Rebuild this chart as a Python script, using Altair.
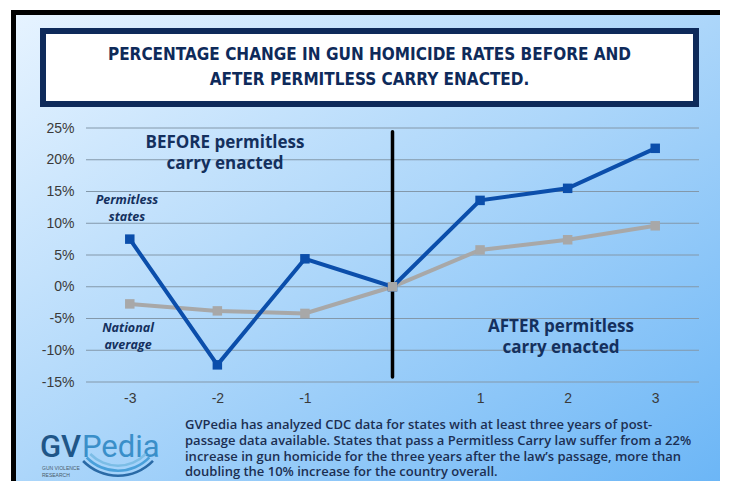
import altair as alt
import pandas as pd

# ---- data ----
years = [-3, -2, -1, 0, 1, 2, 3]
permitless = [7.5, -12.3, 4.4, 0.0, 13.6, 15.5, 21.8]
national = [-2.7, -3.8, -4.2, 0.0, 5.8, 7.4, 9.6]
series_names = ["Permitless states", "National average"]
y_ticks = [-15, -10, -5, 0, 5, 10, 15, 20, 25]
x_ticks = [-3, -2, -1, 1, 2, 3]
enact_year = [0]
enact_span = [24.4, -14.2]

title_lines = ["PERCENTAGE CHANGE IN GUN HOMICIDE RATES BEFORE AND",
               "AFTER PERMITLESS CARRY ENACTED."]
before_lines = ["BEFORE permitless", "carry enacted"]
after_lines = ["AFTER permitless", "carry enacted"]
perm_label = ["Permitless", "states"]
nat_label = ["National", "average"]
note_lines = [
    "GVPedia has analyzed CDC data for states with at least three years of post-",
    "passage data available. States that pass a Permitless Carry law suffer from a 22%",
    "increase in gun homicide for the three years after the law\u2019s passage, more than",
    "doubling the 10% increase for the country overall.",
]

BLUE = "#0b4eab"
GRAY = "#a8a8a8"
NAVY = "#14305e"

df = pd.DataFrame({
    "year": years * 2,
    "value": permitless + national,
    "series": [series_names[0]] * len(years) + [series_names[1]] * len(years),
})
perm_df = df[df.series == series_names[0]]
nat_df = df[df.series == series_names[1]]
one = pd.DataFrame({"k": [0]})
grid_df = pd.DataFrame({"value": y_ticks})
vline_df = pd.DataFrame({"year": enact_year, "value": [enact_span[0]], "bot": [enact_span[1]]})

xs = alt.Scale(domain=[-3.5, 3.5], nice=False, zero=False)
ys = alt.Scale(domain=[-15, 25], nice=False, zero=False)

x_axis = alt.Axis(values=x_ticks, labelExpr="'' + datum.value", grid=False, domain=False,
                  ticks=False, labelPadding=9, labelFont="Liberation Sans",
                  labelFontSize=14, labelColor="#3a3a3a", labelOverlap=False, zindex=1)
y_axis = alt.Axis(values=y_ticks, labelExpr="datum.value + '%'", grid=False, domain=False,
                  ticks=False, labelPadding=12, labelFont="Liberation Sans",
                  labelFontSize=14, labelColor="#3a3a3a", labelOverlap=False,
                  labelBound=False, zindex=1)
X = alt.X("year:Q", scale=xs, title=None, axis=x_axis)
Y = alt.Y("value:Q", scale=ys, title=None, axis=y_axis)

# plot origin is at page (86,128); values below are offsets from it
bg = alt.Chart(one).mark_rect(fill=alt.Gradient(
    gradient="linear",
    stops=[alt.GradientStop(color="#e6f3ff", offset=0),
           alt.GradientStop(color="#acd6fa", offset=0.5),
           alt.GradientStop(color="#6cb6f6", offset=1)],
    x1=0, y1=0, x2=1, y2=1), strokeOpacity=0).encode(
    x=alt.value(-70), x2=alt.value(634), y=alt.value(-113), y2=alt.value(353))
frame_top = alt.Chart(one).mark_rect(fill="black").encode(
    x=alt.value(-75), x2=alt.value(634), y=alt.value(-118), y2=alt.value(-113))
frame_left = alt.Chart(one).mark_rect(fill="black").encode(
    x=alt.value(-75), x2=alt.value(-70), y=alt.value(-118), y2=alt.value(353))
title_box = alt.Chart(one).mark_rect(fill="white", stroke="#0e2a5a", strokeWidth=6).encode(
    x=alt.value(-43), x2=alt.value(610), y=alt.value(-97), y2=alt.value(-24))
title_txt = alt.Chart(one).mark_text(
    font="DejaVu Sans Condensed, Roboto, sans-serif", fontWeight="bold", fontSize=17,
    color="#0e2a5a", align="center", baseline="middle", lineHeight=25).encode(
    x=alt.value(283.5), y=alt.value(-73), text=alt.value(title_lines))

grid = alt.Chart(grid_df).mark_rule(color="#8398aa", strokeWidth=1).encode(y=Y)

vline = alt.Chart(vline_df).mark_rule(color="black", strokeWidth=3.5, strokeCap="round").encode(
    x=X, y=Y, y2="bot:Q")

nat_line = alt.Chart(nat_df).mark_line(color=GRAY, strokeWidth=4).encode(x=X, y=Y)
perm_line = alt.Chart(perm_df).mark_line(color=BLUE, strokeWidth=4).encode(x=X, y=Y)
perm_pts = alt.Chart(perm_df).mark_square(color=BLUE, size=90, opacity=1).encode(x=X, y=Y)
nat_pts = alt.Chart(nat_df).mark_square(color=GRAY, size=90, opacity=1).encode(x=X, y=Y)

def txt(lines, x, y, size, color=NAVY, style="normal", weight="bold", lh=20, font="Open Sans", align="center"):
    return alt.Chart(one).mark_text(font=font, fontWeight=weight, fontStyle=style, fontSize=size,
                                    color=color, align=align, baseline="middle", lineHeight=lh).encode(
        x=alt.value(x), y=alt.value(y), text=alt.value(lines))

before_t = txt(before_lines, 139, 15, 17, lh=21)
after_t = txt(after_lines, 475, 199, 17, lh=21)
perm_t = txt(perm_label, 41, 72, 12.5, style="italic", lh=17)
nat_t = txt(nat_label, 42, 200, 12.5, style="italic", lh=17)
note_t = alt.Chart(one).mark_text(font="Open Sans", fontWeight=600, fontSize=13, color="#1c2f52",
                                  align="left", baseline="middle", lineHeight=15.8).encode(
    x=alt.value(99), y=alt.value(297), text=alt.value(note_lines))

logo_gv = alt.Chart(one).mark_text(font="Roboto", fontWeight=500, fontSize=31, color="#1f5688",
                                   align="left", baseline="alphabetic").encode(
    x=alt.value(-46), y=alt.value(329), text=alt.value("GV"))
logo_p = alt.Chart(one).mark_text(font="Roboto", fontWeight=400, fontSize=31, color="#3a8fc9",
                                  align="left", baseline="alphabetic").encode(
    x=alt.value(-4), y=alt.value(329), text=alt.value("Pedia"))
logo_small = alt.Chart(one).mark_text(font="Liberation Sans", fontSize=5, color="#4a5a6a",
                                      align="left", baseline="middle", lineHeight=7).encode(
    x=alt.value(-44), y=alt.value(340), text=alt.value(["GUN VIOLENCE", "RESEARCH"]))

arcs = []
for r, col in [(50, "#2a6aa6"), (45, "#4aa0da"), (40, "#7cbde6")]:
    arcs.append(alt.Chart(one).mark_arc(theta=2.34, theta2=3.94, radius=r, radius2=r - 2.6,
                                        color=col).encode(x=alt.value(32), y=alt.value(299)))

chart = alt.layer(
    bg, frame_top, frame_left, title_box, title_txt, grid, vline,
    nat_line, perm_line, perm_pts, nat_pts,
    before_t, after_t, perm_t, nat_t, note_t, logo_gv, logo_p, logo_small, *arcs
).properties(
    width=613, height=254,
    autosize=alt.AutoSizeParams(type="none"),
    padding={"left": 78, "top": 120, "right": 25, "bottom": 99},
).configure_view(stroke=None).configure(background="white")

chart.save("out.html", embed_options={"renderer": "svg", "actions": False})
